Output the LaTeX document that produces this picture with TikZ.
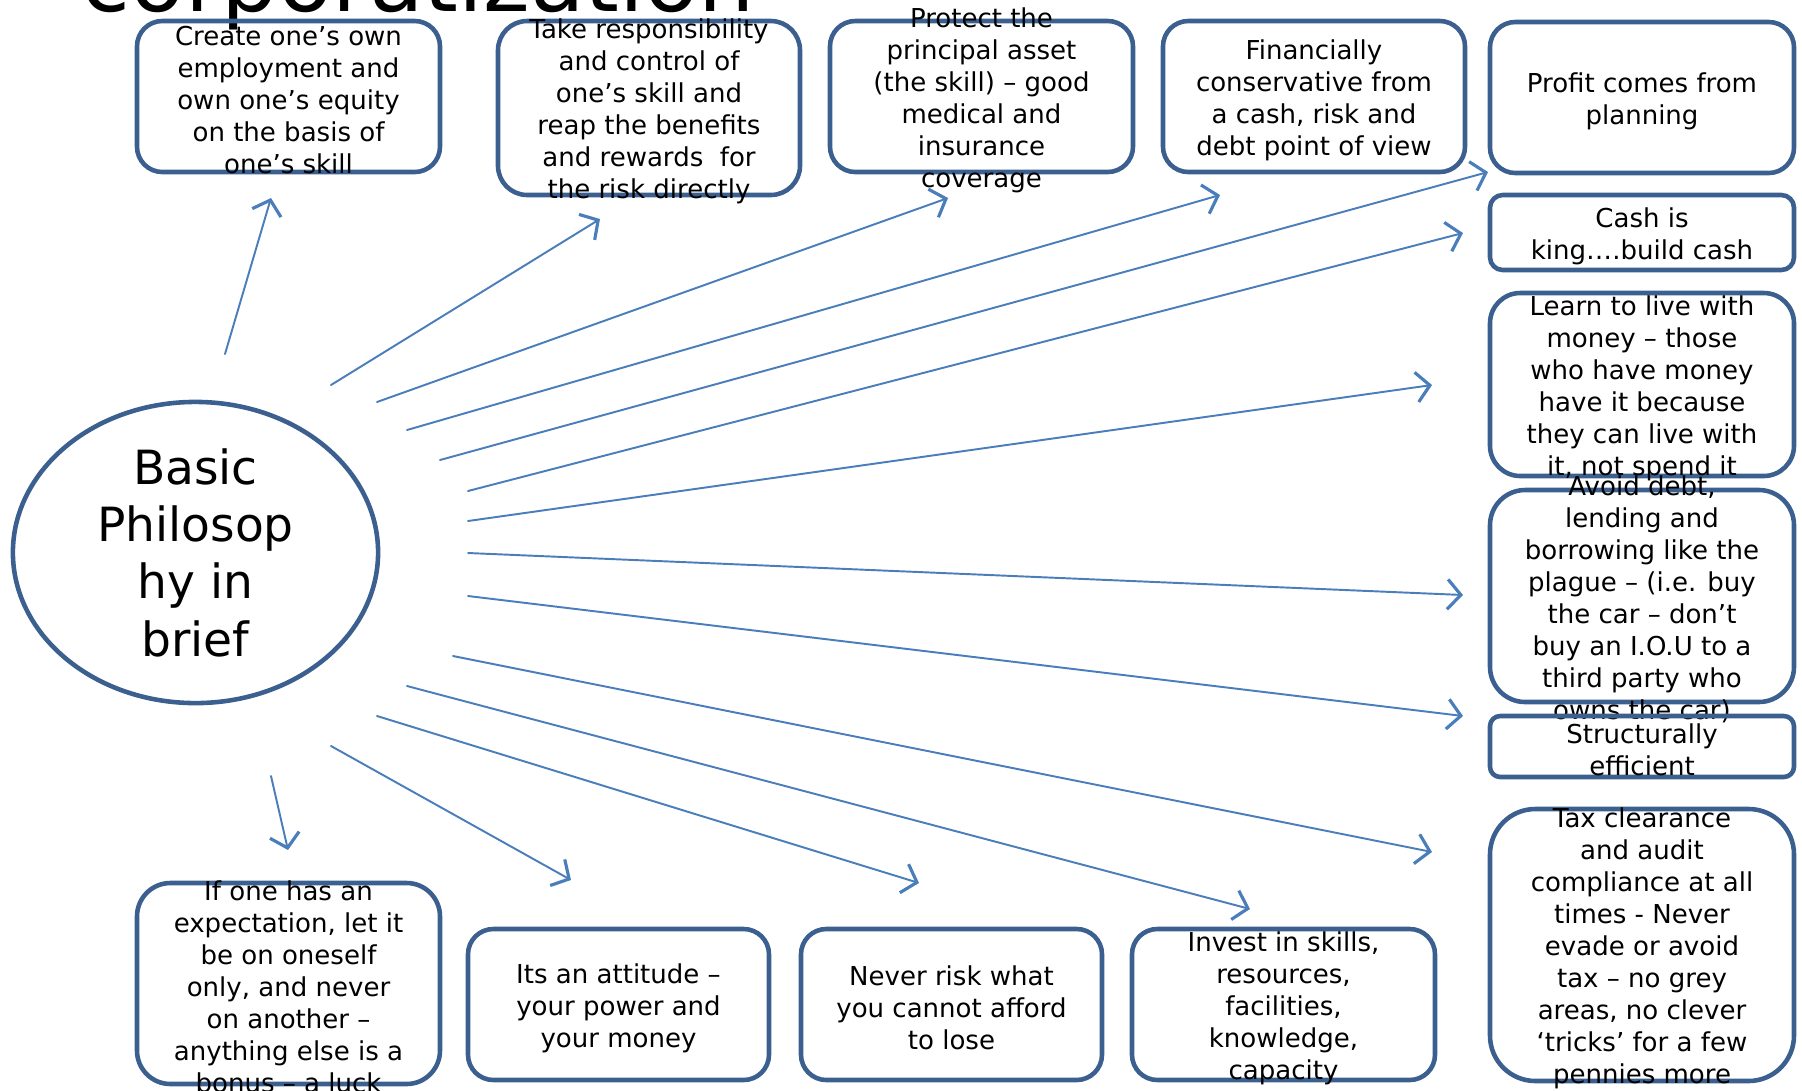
\documentclass[tikz,border=0pt]{standalone}
\usepackage{fontspec}
\setmainfont{DejaVu Sans}
\usepackage{xcolor}
\usetikzlibrary{arrows.meta,shapes,fit}
\definecolor{boxblue}{HTML}{3B5F8E}
\definecolor{arrowblue}{HTML}{4A7EBB}
\tikzset{%
         idea/.style = { draw=boxblue, line width=1.3pt, inner sep=0pt, rounded corners=#1 },
       idea/.default = 7.2pt,
         note/.style = { align=center, inner sep=0pt, yshift=-1pt, font=\fontsize{7.4}{9.1}\selectfont },
          hub/.style = { ellipse, draw=boxblue, line width=1.3pt, inner sep=0pt,
                         minimum width=3.65cm, minimum height=3.01cm },
      hubtext/.style = { align=center, inner sep=0pt, font=\fontsize{13.4}{16.3}\selectfont },
          arr/.style = { arrowblue, line width=0.55pt,
                         -{Straight Barb[length=3.8pt,width=8.5pt,line width=0.9pt]} }
}

\begin{document}
\begin{tikzpicture}[x=0.01cm,y=-0.01cm,line cap=round,line join=round]
\useasboundingbox (0,0) rectangle (1802,1090);
\node[anchor=base west,inner sep=0pt,font=\fontsize{25.3}{30}\selectfont] (title) at (81,11) {corporatization};
% centre
\node[hub] (hub) at (195.5,552.5) {};
\node[hubtext] (hubtext) at (hub.center) {Basic\\Philosop\\hy in\\brief};
% top row
\node[idea, fit={(137,21) (440,172)}] (create) {};
\node[note] at (create) {Create one’s own\\employment and\\own one’s equity\\on the basis of\\one’s skill};
\node[idea=8.3pt, fit={(498,21) (800,195)}] (resp) {};
\node[note] at (resp) {Take responsibility\\and control of\\one’s skill and\\reap the benefits\\and rewards\ \ for\\the risk directly};
\node[idea, fit={(830,21) (1133,172)}] (protect) {};
\node[note] at (protect) {Protect the\\principal asset\\(the skill) – good\\medical and\\insurance\\coverage};
\node[idea, fit={(1163,21) (1465,172)}] (conserv) {};
\node[note] at (conserv) {Financially\\conservative from\\a cash, risk and\\debt point of view};
% right column
\node[idea, fit={(1490,22) (1794,173)}] (profit) {};
\node[note] at (profit) {Profit comes from\\planning};
\node[idea=3.6pt, fit={(1490,195) (1794,270)}] (cash) {};
\node[note] at (cash) {Cash is\\king….build cash};
\node[idea=8.6pt, fit={(1490,293) (1794,476)}] (learn) {};
\node[note] at (learn) {Learn to live with\\money – those\\who have money\\have it because\\they can live with\\it, not spend it};
\node[idea=10pt, fit={(1490,490) (1794,702)}] (avoid) {};
\node[note] at (avoid) {Avoid debt,\\lending and\\borrowing like the\\plague – (i.e. buy\\the car – don’t\\buy an I.O.U to a\\third party who\\owns the car)};
\node[idea=2.9pt, fit={(1490,716) (1794,777)}] (struct) {};
\node[note] at (struct) {Structurally\\efficient};
\node[idea=12.9pt, fit={(1490,809) (1794,1081)}] (tax) {};
\node[note] at (tax) {Tax clearance\\and audit\\compliance at all\\times - Never\\evade or avoid\\tax – no grey\\areas, no clever\\‘tricks’ for a few\\pennies more};
% bottom row
\node[idea=9.5pt, fit={(137,883) (440,1084)}] (expect) {};
\node[note] at (expect) {If one has an\\expectation, let it\\be on oneself\\only, and never\\on another –\\anything else is a\\bonus – a luck};
\node[idea, fit={(468,929) (769,1080)}] (attitude) {};
\node[note] at (attitude) {Its an attitude –\\your power and\\your money};
\node[idea, fit={(801,929) (1102,1080)}] (risk) {};
\node[note] at (risk) {Never risk what\\you cannot afford\\to lose};
\node[idea, fit={(1132,929) (1435,1080)}] (invest) {};
\node[note] at (invest) {Invest in skills,\\resources,\\facilities,\\knowledge,\\capacity};
% spokes
\foreach \sx/\sy/\ex/\ey [count=\i] in {225/354/271/198, 331/385/600/219, 377/402/948/198,
    407/430/1220/195, 440/460/1488/172, 468/491/1463/233, 468/521/1432/385,
    468/553/1463/595, 468/596/1463/716, 453/656/1432/852, 407/686/1250/909,
    377/716/919/883, 331/746/571/880, 271/776/288/850} {
  \coordinate (tail\i) at (\sx,\sy);
  \coordinate (tip\i) at (\ex,\ey);
  \draw[arr] (tail\i) -- (tip\i);
}
\end{tikzpicture}
\end{document}
